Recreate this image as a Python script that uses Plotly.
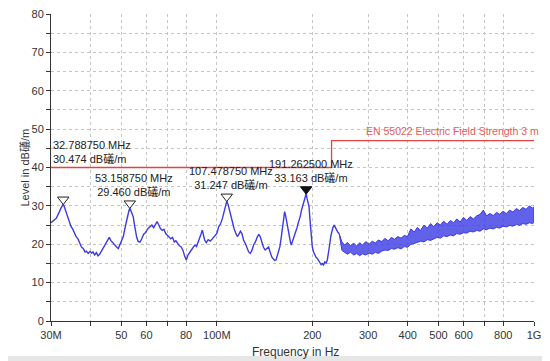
import math
import plotly.graph_objects as go

# ---------------- data ----------------
freq_mhz = [30.0, 30.3, 30.6, 30.9, 31.2, 31.5, 31.9, 32.2, 32.5, 32.79, 33.1, 33.4, 33.7, 34.0, 34.4, 34.7,
            35.1, 35.5, 36.0, 36.5, 37.0, 37.4, 37.9, 38.4, 38.8, 39.3, 39.8, 40.3, 40.7, 41.2, 41.7, 42.2,
            42.7, 43.2, 43.7, 44.3, 44.8, 45.3, 45.8, 46.3, 46.7, 47.2, 47.7, 48.3, 48.9, 49.5, 50.1, 50.7,
            51.3, 51.8, 52.2, 52.7, 53.16, 53.6, 54.0, 54.5, 55.0, 55.4, 55.9, 56.5, 57.3, 58.0, 58.8, 59.5,
            60.1, 60.8, 61.6, 62.4, 63.2, 64.0, 64.8, 65.6, 66.4, 67.3, 68.1, 69.0, 69.8, 70.7, 71.6, 72.5,
            73.4, 74.3, 75.3, 76.2, 77.2, 78.2, 79.1, 80.1, 81.1, 82.1, 83.1, 84.2, 85.3, 86.3, 87.4, 88.6,
            89.3, 90.0, 90.8, 91.5, 92.6, 93.9, 95.4, 97.0, 98.5, 100.0, 101.4, 102.8, 104.2, 105.7, 106.6,
            107.48, 108.5, 109.3, 110.0, 111.1, 112.2, 113.3, 114.6, 116.0, 117.3, 118.7, 120.0, 121.5,
            123.0, 124.6, 126.0, 127.5, 129.0, 130.6, 132.3, 134.0, 135.6, 137.0, 138.6, 140.3, 142.0,
            143.8, 145.6, 147.2, 149.0, 150.6, 152.2, 153.7, 155.0, 156.5, 158.0, 159.5, 160.8, 162.2,
            163.6, 164.8, 166.2, 167.7, 169.2, 170.6, 171.6, 173.0, 174.4, 175.7, 177.4, 179.0, 180.5,
            182.0, 183.4, 184.8, 186.3, 187.8, 189.3, 190.7, 191.26, 192.4, 193.9, 195.3, 196.4, 197.6,
            198.8, 200.0, 201.8, 203.6, 205.5, 207.4, 209.5, 211.5, 213.2, 215.0, 217.0, 219.0, 221.0,
            223.0, 225.0, 226.8, 228.6, 230.5, 232.4, 234.4, 236.5, 238.6, 240.8, 243.0]
level_db = [25.6, 26.0, 26.4, 26.5, 26.8, 27.4, 28.5, 29.3, 29.9, 30.47, 29.6, 28.6, 27.8, 27.0, 25.6, 24.6,
            24.0, 22.9, 22.0, 21.4, 20.3, 19.3, 18.9, 18.0, 18.2, 17.6, 18.1, 17.7, 18.0, 17.2, 17.8, 17.0,
            17.4, 18.1, 18.8, 19.6, 20.4, 21.0, 21.8, 21.0, 20.6, 20.2, 19.6, 19.3, 18.9, 19.8, 20.8, 22.0,
            24.1, 26.0, 27.2, 28.4, 29.46, 28.8, 28.0, 27.2, 25.0, 23.2, 21.8, 20.7, 20.6, 21.5, 22.6, 23.0,
            23.7, 24.2, 24.6, 25.0, 24.3, 25.2, 25.9, 25.0, 24.1, 23.6, 23.9, 22.8, 22.4, 22.0, 21.4, 21.8,
            20.6, 20.9, 20.1, 19.6, 19.3, 18.4, 17.0, 15.9, 17.2, 18.0, 18.5, 19.2, 19.8, 19.4, 20.6, 21.6,
            22.8, 23.7, 22.6, 21.1, 20.4, 21.2, 20.8, 21.5, 22.0, 22.8, 24.6, 25.4, 26.8, 28.9, 30.0,
            31.25, 30.4, 29.2, 28.9, 27.0, 25.8, 24.1, 23.0, 22.0, 22.6, 23.4, 22.8, 21.0,
            20.2, 18.9, 18.0, 17.6, 18.4, 19.8, 20.6, 21.8, 22.6, 22.0, 20.4, 19.2, 18.5,
            19.0, 19.3, 18.0, 16.7, 16.2, 15.8, 15.9, 16.8, 18.2, 19.3, 21.6, 24.0, 26.8,
            28.5, 27.4, 25.5, 23.7, 22.0, 20.6, 19.8, 20.6, 21.5, 22.0, 23.2, 24.3, 25.5,
            26.3, 27.4, 28.8, 29.8, 31.2, 32.4, 33.0, 33.16, 32.0, 30.8, 29.8, 27.0, 24.2,
            21.5, 19.3, 18.0, 17.2, 16.6, 16.3, 15.6, 15.2, 14.7, 15.0, 14.6, 15.4, 15.1,
            15.9, 17.6, 19.8, 22.0, 23.6, 24.4, 25.0, 24.3, 23.6, 23.1, 22.8]

# dense noisy band above ~240 MHz: upper / lower envelopes
band_freq = [243, 248, 253, 258, 264, 270, 276, 282, 288, 295, 302, 309, 316, 323, 331, 339, 347, 355, 363,
             372, 381, 390, 399, 409, 419, 429, 439, 450, 461, 472, 483, 495, 507, 519, 532, 545, 558, 571,
             585, 599, 614, 629, 644, 660, 676, 692, 709, 726, 744, 762, 780, 799, 818, 838, 858, 879, 900,
             922, 944, 967, 990, 1000]
band_upper = [22.8, 20.6, 19.8, 20.5, 19.6, 20.3, 19.5, 20.4, 19.8, 20.7, 20.0, 20.8, 20.3, 21.1, 20.7, 21.5,
              20.9, 21.8, 21.3, 22.0, 21.6, 22.3, 22.0, 24.0, 23.2, 24.4, 23.6, 25.0, 24.2, 25.4, 24.6, 25.6,
              25.0, 26.0, 25.2, 26.2, 25.6, 26.6, 25.8, 27.0, 26.2, 27.2, 26.6, 27.4, 27.8, 28.9, 27.4, 28.0,
              27.5, 28.3, 27.8, 28.6, 28.0, 28.9, 28.4, 29.3, 28.8, 29.6, 29.1, 30.0, 29.4, 29.8]
band_lower = [22.8, 18.4, 17.8, 17.4, 17.9, 17.2, 17.6, 17.0, 17.5, 17.2, 17.7, 17.4, 17.9, 17.6, 18.2, 18.5,
              18.4, 18.9, 18.7, 19.1, 18.8, 19.4, 19.2, 20.0, 20.2, 20.4, 20.8, 20.6, 21.2, 21.0, 21.4, 21.8,
              21.6, 22.2, 22.0, 22.4, 22.2, 22.8, 22.6, 23.0, 22.9, 23.4, 23.2, 23.6, 23.4, 24.0, 23.8, 24.2,
              24.0, 24.4, 24.2, 24.7, 24.5, 24.9, 24.7, 25.2, 24.9, 25.4, 25.2, 25.6, 25.4, 25.7]

# limit line EN 55022 class B, 3 m
limit_freq = [30, 230, 230, 1000]
limit_db = [40, 40, 47, 47]
limit_name = "EN 55022 Electric Field Strength 3 m Q"

# markers
marker_freq = [32.78875, 53.15875, 107.47875, 191.2625]
marker_db = [30.474, 29.460, 31.247, 33.163]
marker_text = ["32.788750 MHz<br>30.474 dB礒/m", "53.158750 MHz<br>29.460 dB礒/m",
               "107.478750 MHz<br>31.247 dB礒/m", "191.262500 MHz<br>33.163 dB礒/m"]

x_tickvals = [30, 40, 50, 60, 70, 80, 100, 200, 300, 400, 500, 600, 700, 800, 1000]
x_ticktext = ["30M", "", "50", "60", "", "80", "100M", "200", "300", "400", "500", "600", "", "800", "1G"]
y_tickvals = [0, 5, 10, 15, 20, 25, 30, 35, 40, 45, 50, 55, 60, 65, 70, 75, 80]
y_ticktext = ["0", "", "10", "", "20", "", "30", "", "40", "", "50", "", "60", "", "70", "", "80"]

# ---------------- style / geometry ----------------
FONT = "Liberation Sans, Arial, Noto Sans CJK SC, sans-serif"
BLUE = "#3b3be3"
RED = "#e04545"
OFF = 8                      # default page body margin
PL, PR, PT, PB = 51, 534, 14, 321   # plot area in window pixels
W, H = 550 - OFF, 361 - OFF
ML, MT = PL - OFF, PT - OFF
MR, MB = (OFF + W) - PR, (OFF + H) - PB
plot_w, plot_h = PR - PL, PB - PT
db_per_px = 80.0 / plot_h


def px_x(X):
    return (X - PL) / plot_w


def px_y(Y):
    return (PB - Y) / plot_h


fig = go.Figure()

fig.add_trace(go.Scatter(x=band_freq + band_freq[::-1], y=band_upper + band_lower[::-1],
                         mode="lines", fill="toself", fillcolor="rgba(62,62,228,0.82)",
                         line=dict(color=BLUE, width=1), hoverinfo="skip", showlegend=False))
fig.add_trace(go.Scatter(x=freq_mhz, y=level_db, mode="lines",
                         line=dict(color=BLUE, width=1.4), showlegend=False))
fig.add_trace(go.Scatter(x=limit_freq, y=limit_db, mode="lines",
                         line=dict(color=RED, width=1.3), showlegend=False))

tri_y = [v + 4.5 * db_per_px for v in marker_db]
fig.add_trace(go.Scatter(x=marker_freq[:3], y=tri_y[:3], mode="markers",
                         marker=dict(symbol="triangle-down", size=10, color="white",
                                     line=dict(color="#222222", width=1)), showlegend=False))
fig.add_trace(go.Scatter(x=marker_freq[3:], y=tri_y[3:], mode="markers",
                         marker=dict(symbol="triangle-down", size=10, color="#111111",
                                     line=dict(color="#111111", width=1)), showlegend=False))

ann = []
ann.append(dict(x=px_x(51), xref="paper", y=marker_db[0], yref="y", text=marker_text[0],
                xanchor="left", yanchor="bottom", yshift=37, align="left", showarrow=False,
                font=dict(family=FONT, size=11, color="#222222")))
for i, dx in zip([1, 2, 3], [4, 4, 5]):
    ann.append(dict(x=math.log10(marker_freq[i]), xref="x", y=marker_db[i], yref="y",
                    text=marker_text[i], xanchor="center", yanchor="bottom", xshift=dx, yshift=8,
                    align="center", showarrow=False,
                    font=dict(family=FONT, size=11, color="#222222")))
ann.append(dict(x=px_x(364), xref="paper", y=limit_db[2], yref="y",
                text=limit_name, xanchor="left", yanchor="bottom", yshift=2, showarrow=False,
                font=dict(family=FONT, size=10.5, color="#e06060")))
ann.append(dict(x=px_x(16), xref="paper", y=0.5, yref="paper",
                text="Level in dB礒/m", textangle=-90, showarrow=False,
                font=dict(family=FONT, size=11, color="#333333")))
ann.append(dict(x=px_x(295), xref="paper", y=px_y(352), yref="paper",
                text="Frequency in Hz", showarrow=False, yanchor="middle",
                font=dict(family=FONT, size=12, color="#333333")))

shapes = [
    # faint outer frame of the screenshot
    dict(type="rect", xref="paper", yref="paper", x0=px_x(0), x1=px_x(550), y0=px_y(361), y1=px_y(356),
         fillcolor="#e6e6e6", line=dict(width=0), layer="below"),
    dict(type="line", xref="paper", yref="paper", x0=px_x(3), x1=px_x(3), y0=px_y(356), y1=px_y(2),
         line=dict(color="#e4e4e4", width=1), layer="below"),
]

fig.update_layout(
    width=W, height=H, margin=dict(l=ML, r=MR, t=MT, b=MB, autoexpand=False),
    paper_bgcolor="white", plot_bgcolor="white",
    font=dict(family=FONT, size=11, color="#333333"),
    annotations=ann, shapes=shapes, showlegend=False,
)
fig.update_xaxes(type="log", range=[1.47712, 3.0], tickvals=x_tickvals, ticktext=x_ticktext,
                 showgrid=True, gridcolor="#c4c4c4", griddash="dot", gridwidth=1,
                 showline=True, linecolor="#333333", linewidth=1, ticks="outside", ticklen=4,
                 tickcolor="#333333", zeroline=False, fixedrange=True, automargin=False,
                 ticklabeloverflow="allow")
fig.update_yaxes(range=[0, 80], tickvals=y_tickvals, ticktext=y_ticktext,
                 showgrid=True, gridcolor="#c4c4c4", griddash="dot", gridwidth=1,
                 showline=True, linecolor="#333333", linewidth=1, ticks="outside", ticklen=4,
                 tickcolor="#333333", zeroline=False, fixedrange=True, automargin=False,
                 ticklabeloverflow="allow")

fig.write_html("out.html")
